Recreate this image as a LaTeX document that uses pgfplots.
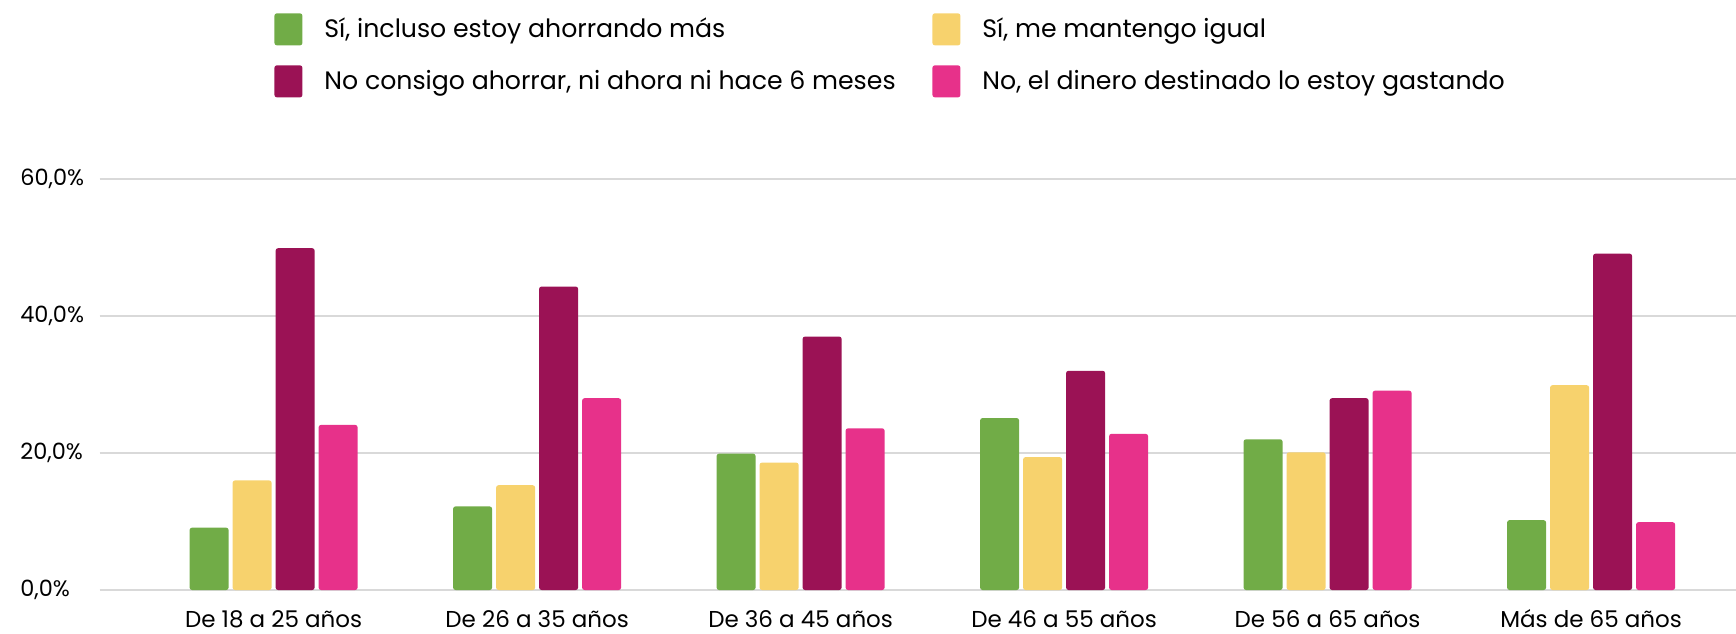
\documentclass[border=0pt]{standalone}
\usepackage{fontspec}
\setmainfont{Poppins}
\usepackage{pgfplots}
\usepackage{pgfplotstable}
\pgfplotsset{compat=1.18}

\definecolor{cverde}{HTML}{71AC47}
\definecolor{camarillo}{HTML}{F7D26D}
\definecolor{cgranate}{HTML}{9B1255}
\definecolor{crosa}{HTML}{E7318A}
\definecolor{cgrid}{HTML}{D9D9D9}

\newcommand{\lbl}{\fontsize{11.5}{13}\selectfont}
\newcommand{\ylbl}{\fontsize{11.2}{13}\selectfont}
\newcommand{\leg}{\fontsize{12.6}{14}\selectfont}

\pgfplotsset{
  cajita/.style={legend image code/.code={\fill[##1,draw=none,rounded corners=1.2pt] (0pt,-8pt) rectangle (14pt,8pt);}},
}

% porcentaje por grupo de edad
\pgfplotstableread{
x verde amarillo granate rosa
0 9.1  16.0 49.9 24.1
1 12.2 15.3 44.3 28.0
2 19.9 18.6 37.0 23.6
3 25.1 19.4 32.0 22.8
4 22.0 20.1 28.0 29.1
5 10.2 29.9 49.1 9.9
}\datos

\begin{document}
\begin{tikzpicture}
\path[use as bounding box] (-49.8pt,-21.5pt) rectangle (818.2pt,295pt);
\begin{axis}[
  scale only axis,
  width=818.2pt, height=205.5pt,
  at={(0pt,0pt)}, anchor=south west,
  ybar=2pt, bar width=19.5pt,
  xmin=-0.6604, xmax=5.55,
  ymin=0, ymax=60,
  xtick={0,...,5},
  xticklabels={De 18 a 25 años, De 26 a 35 años, De 36 a 45 años, De 46 a 55 años, De 56 a 65 años, Más de 65 años},
  ytick={0,20,40,60},
  yticklabels={{0,0\%},{20,0\%},{40,0\%},{60,0\%}},
  ymajorgrids,
  grid style={draw=cgrid, line width=1pt},
  axis line style={draw=none},
  major tick length=0pt,
  clip=false,
  xticklabel style={anchor=base, yshift=-18.8pt, inner sep=0pt, font=\lbl},
  yticklabel style={anchor=west, xshift=-39.8pt, inner sep=0pt, font=\ylbl},
  every axis plot post/.append style={cajita, draw=none, rounded corners=1.2pt},
  legend columns=2,
  legend cell align=left,
  legend style={at={(0.1066,1.404)}, anchor=north west, draw=none, fill=none,
    inner sep=0pt, row sep=10pt, nodes={inner sep=0pt}, font=\leg,
    /tikz/every odd column/.append style={column sep=11pt}},
]
\addplot[fill=cverde] table[x=x, y=verde] {\datos};
\addlegendentry{\makebox[304pt][l]{Sí, incluso estoy ahorrando más}}
\addplot[fill=camarillo] table[x=x, y=amarillo] {\datos};
\addlegendentry{Sí, me mantengo igual}
\addplot[fill=cgranate] table[x=x, y=granate] {\datos};
\addlegendentry{\makebox[304pt][l]{No consigo ahorrar, ni ahora ni hace 6 meses}}
\addplot[fill=crosa] table[x=x, y=rosa] {\datos};
\addlegendentry{No, el dinero destinado lo estoy gastando}
\end{axis}
\end{tikzpicture}
\end{document}
